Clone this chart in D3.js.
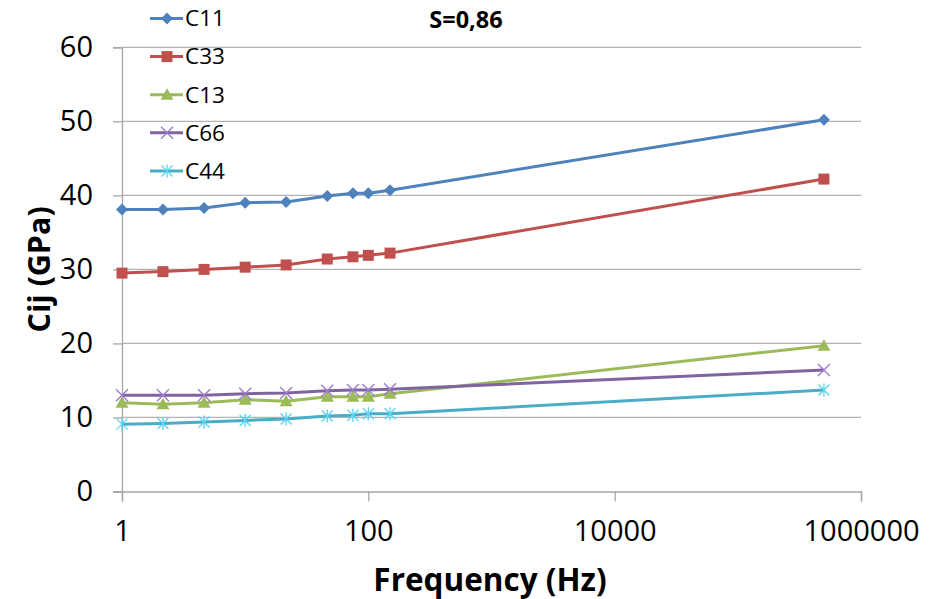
<!DOCTYPE html>
<html>
<head>
<meta charset="utf-8">
<script src="https://cdn.jsdelivr.net/npm/d3@7"></script>
<style>
  html, body { margin: 0; padding: 0; background: #fff; }
  svg { display: block; font-family: "Open Sans", "Noto Sans", sans-serif; }
</style>
</head>
<body>
<svg id="chart" width="932" height="599"></svg>
<script>
// ---- data ----
const frequencies = [1, 2.15, 4.64, 10, 21.5, 46.4, 75, 100, 150, 500000];
const seriesNames = ["C11", "C33", "C13", "C66", "C44"];
const c11 = [38.1, 38.1, 38.3, 39.0, 39.1, 39.9, 40.3, 40.3, 40.7, 50.2];
const c33 = [29.5, 29.7, 30.0, 30.3, 30.6, 31.4, 31.7, 31.9, 32.2, 42.2];
const c13 = [12.0, 11.8, 12.0, 12.4, 12.2, 12.8, 12.8, 12.8, 13.2, 19.7];
const c66 = [13.0, 13.0, 13.0, 13.2, 13.3, 13.6, 13.7, 13.7, 13.8, 16.4];
const c44 = [9.1, 9.2, 9.4, 9.6, 9.8, 10.2, 10.3, 10.5, 10.5, 13.7];
const xTicks = [1, 100, 10000, 1000000];
const yTicks = [0, 10, 20, 30, 40, 50, 60];
const annotation = "S=0,86";
const xTitle = "Frequency (Hz)";
const yTitle = "Cij (GPa)";

const colors = ["#4F81BD", "#C0504D", "#9BBB59", "#8064A2", "#4BACC6"];
const markers = ["diamond", "square", "triangle", "cross", "star"];
const values = [c11, c33, c13, c66, c44];

// ---- layout ----
const svg = d3.select("#chart");
const mLeft = 122, mRight = 861, mTop = 47.3, mBottom = 491.5;

const x = d3.scaleLog().domain([1, 1000000]).range([mLeft, mRight]);
const y = d3.scaleLinear().domain([0, 60]).range([mBottom, mTop]);

// gridlines
svg.append("g").selectAll("line").data(yTicks.filter(d => d > 0)).join("line")
  .attr("x1", mLeft).attr("x2", mRight)
  .attr("y1", d => y(d)).attr("y2", d => y(d))
  .attr("stroke", "#b3b3b3").attr("stroke-width", 1.3);

// y axis
const yAxis = svg.append("g").attr("transform", `translate(${mLeft},0)`)
  .call(d3.axisLeft(y).tickValues(yTicks).tickSize(9).tickPadding(20).tickFormat(d3.format("d")));
yAxis.select(".domain").attr("stroke", "#a6a6a6").attr("stroke-width", 1.3);
yAxis.selectAll(".tick line").attr("stroke", "#a6a6a6").attr("stroke-width", 1.3);
yAxis.selectAll("text").attr("font-size", 29).attr("fill", "#000")
  .attr("font-family", "'Open Sans', sans-serif");

// x axis
const xAxis = svg.append("g").attr("transform", `translate(0,${mBottom})`)
  .call(d3.axisBottom(x).tickValues(xTicks).tickSize(10).tickPadding(19).tickFormat(d3.format("d")));
xAxis.select(".domain").attr("stroke", "#a6a6a6").attr("stroke-width", 1.3);
xAxis.selectAll(".tick line").attr("stroke", "#a6a6a6").attr("stroke-width", 1.3);
xAxis.selectAll("text").attr("font-size", 29).attr("fill", "#000")
  .attr("font-family", "'Open Sans', sans-serif");

// marker drawing
function markerPath(type) {
  switch (type) {
    case "diamond": return "M0,-6L6,0L0,6L-6,0Z";
    case "square": return "M-5.5,-5.5H5.5V5.5H-5.5Z";
    case "triangle": return "M0,-6.5L6.5,5H-6.5Z";
    case "cross": return "M-6,-6L6,6M6,-6L-6,6";
    case "star": return "M-5.5,-5.5L5.5,5.5M5.5,-5.5L-5.5,5.5M0,-6.5V6.5";
  }
}
function drawMarker(g, type, color) {
  const p = g.append("path").attr("d", markerPath(type));
  if (type === "cross" || type === "star") {
    p.attr("fill", "none").attr("stroke", d3.color(color).brighter(0.6)).attr("stroke-width", 1.4);
  } else {
    p.attr("fill", color).attr("stroke", "none");
  }
}

// series
const line = d3.line().x(d => x(d[0])).y(d => y(d[1]));
values.forEach((vals, i) => {
  const pts = frequencies.map((f, j) => [f, vals[j]]);
  const g = svg.append("g");
  g.append("path").datum(pts).attr("d", line)
    .attr("fill", "none").attr("stroke", colors[i]).attr("stroke-width", 3)
    .attr("stroke-linejoin", "round");
  pts.forEach(p => {
    const mg = g.append("g").attr("transform", `translate(${x(p[0])},${y(p[1])})`);
    drawMarker(mg, markers[i], colors[i]);
  });
});

// legend
const legend = svg.append("g");
seriesNames.forEach((name, i) => {
  const ly = 18.5 + i * 38.1;
  const lg = legend.append("g").attr("transform", `translate(0,${ly})`);
  lg.append("line").attr("x1", 150).attr("x2", 183).attr("y1", 0).attr("y2", 0)
    .attr("stroke", colors[i]).attr("stroke-width", 3);
  const mg = lg.append("g").attr("transform", "translate(167,0)");
  drawMarker(mg, markers[i], colors[i]);
  lg.append("text").attr("x", 185).attr("y", 0).attr("dy", "0.35em")
    .attr("font-size", 22.5).attr("fill", "#000").text(name);
});

// annotation
svg.append("text").attr("x", 466).attr("y", 20).attr("dy", "0.35em")
  .attr("text-anchor", "middle").attr("font-size", 23.5).attr("font-weight", "bold")
  .attr("fill", "#000").text(annotation);

// axis titles
svg.append("text").attr("x", 490).attr("y", 591)
  .attr("text-anchor", "middle").attr("font-size", 31.5).attr("font-weight", "bold")
  .attr("fill", "#000").text(xTitle);
svg.append("text").attr("transform", `translate(50,${(mTop + mBottom) / 2}) rotate(-90)`)
  .attr("text-anchor", "middle").attr("font-size", 30.5).attr("font-weight", "bold")
  .attr("fill", "#000").text(yTitle);
</script>
</body>
</html>
